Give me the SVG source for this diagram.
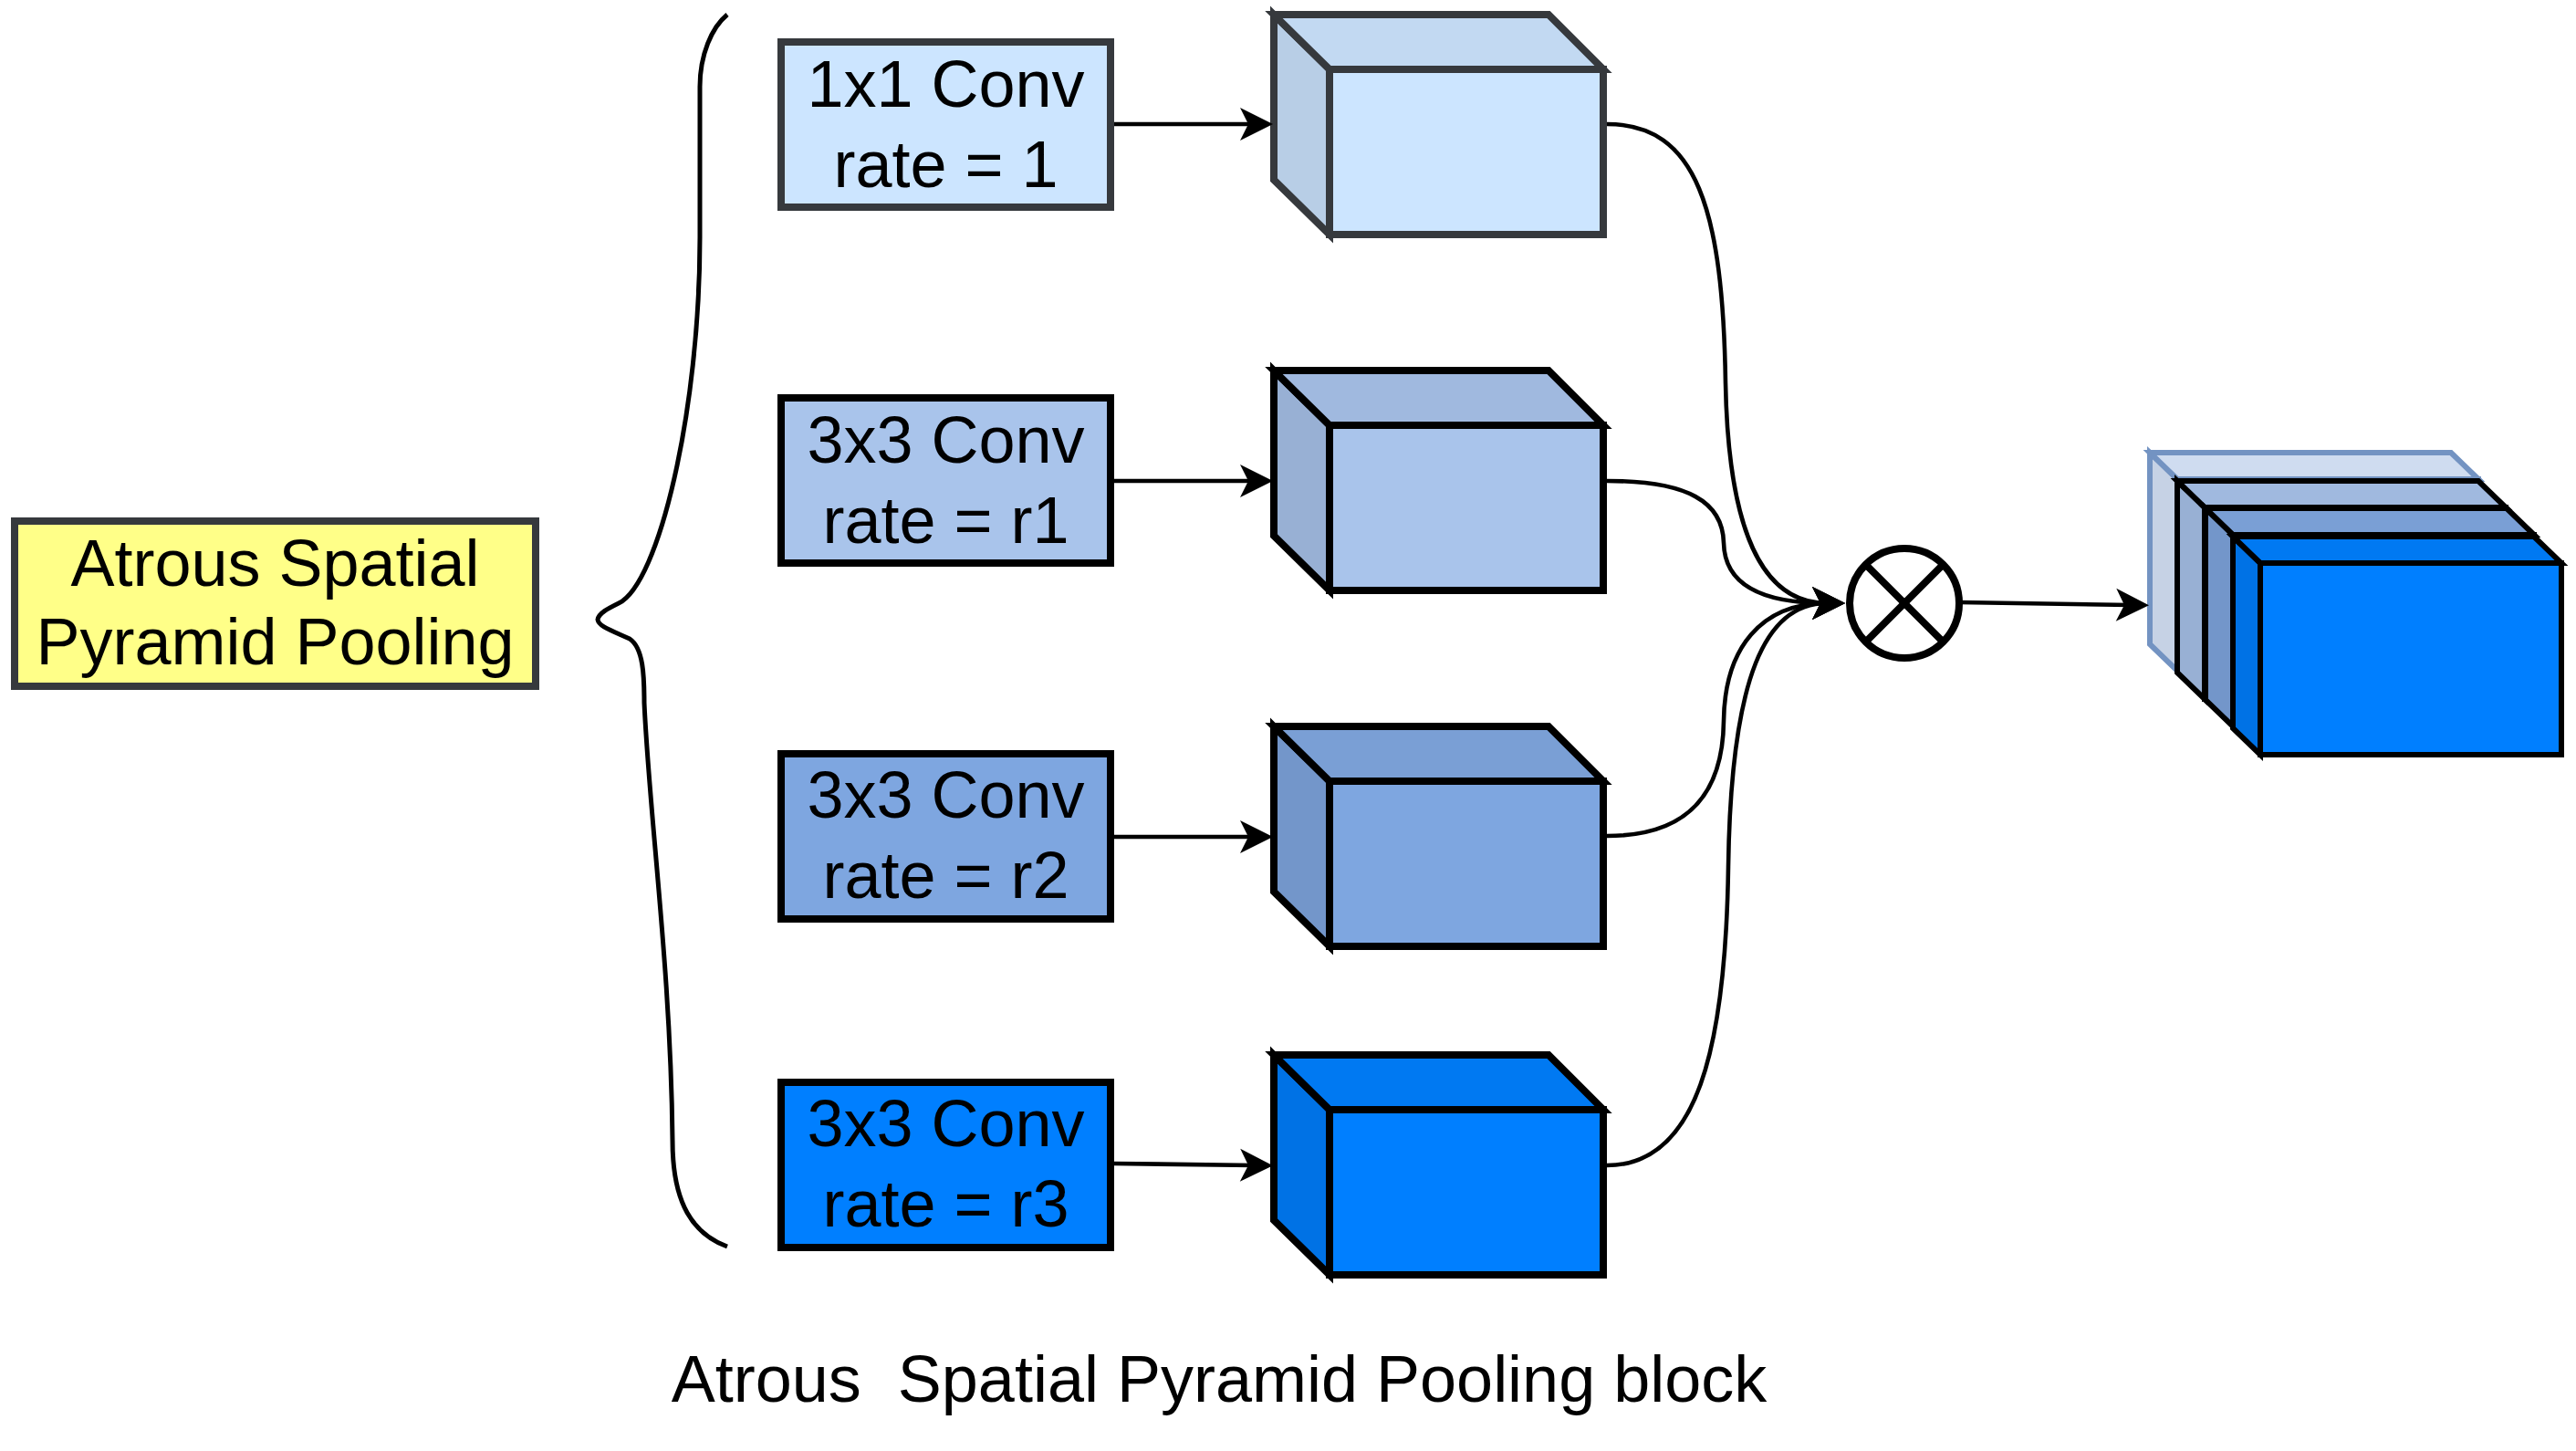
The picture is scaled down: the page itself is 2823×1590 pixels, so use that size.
<svg xmlns="http://www.w3.org/2000/svg" width="2823" height="1590" viewBox="0 0 2823 1590">
  <style>
    .lbl { font-family: "Liberation Sans", Arial, Helvetica, sans-serif; font-size: 72px; fill: #000; text-anchor: middle; white-space: pre; }
    .box { stroke-width: 8; }
    .face { stroke-width: 8; stroke-linejoin: miter; }
    .stk { stroke-width: 6; stroke-linejoin: miter; }
    .edge { fill: none; stroke: #000; stroke-width: 4.6; }
  </style>
  <defs>
    <marker id="arrow" markerUnits="userSpaceOnUse" markerWidth="40" markerHeight="40" viewBox="0 0 40 40" refX="16" refY="20" orient="auto" overflow="visible">
      <path d="M36,20 L0,2 L9,20 L0,38 Z" fill="#000"/>
    </marker>
  </defs>
  <rect width="2823" height="1590" fill="#ffffff"/>

  <!-- Left label -->
  <g id="aspp-label">
    <rect class="box" x="16" y="571" width="571" height="181" fill="#ffff88" stroke="#36393d"/>
    <text class="lbl" x="301.5" y="642">Atrous Spatial</text>
    <text class="lbl" x="301.5" y="728">Pyramid Pooling</text>
  </g>

  <!-- Brace -->
  <g id="brace">
    <path d="M797,16 C780,30 767,60 767,95 L767,260 C767,450 722,640 678,661 C666,667 656,672 655,679 C656,686 668,690 690,700 C705,710 706,740 706,770 C712,900 735,1060 737,1250 C737,1320 760,1352 797,1366" fill="none" stroke="#000" stroke-width="5"/>
  </g>

  <!-- Conv boxes -->
  <g id="conv1">
    <rect class="box" x="856" y="46" width="361" height="181" fill="#cce5ff" stroke="#36393d"/>
    <text class="lbl" x="1036.5" y="117">1x1 Conv</text>
    <text class="lbl" x="1036.5" y="205">rate = 1</text>
  </g>
  <g id="conv2">
    <rect class="box" x="856" y="436" width="361" height="181" fill="#a9c4eb" stroke="#000"/>
    <text class="lbl" x="1036.5" y="507">3x3 Conv</text>
    <text class="lbl" x="1036.5" y="595">rate = r1</text>
  </g>
  <g id="conv3">
    <rect class="box" x="856" y="826" width="361" height="181" fill="#7ea6e0" stroke="#000"/>
    <text class="lbl" x="1036.5" y="896">3x3 Conv</text>
    <text class="lbl" x="1036.5" y="984">rate = r2</text>
  </g>
  <g id="conv4">
    <rect class="box" x="856" y="1186" width="361" height="181" fill="#007fff" stroke="#000"/>
    <text class="lbl" x="1036.5" y="1256">3x3 Conv</text>
    <text class="lbl" x="1036.5" y="1344">rate = r3</text>
  </g>

  <!-- Cubes -->
  <g id="cube1">
    <polygon class="face" points="1396,16 1457,76 1457,257 1396,197" fill="#b8cee6" stroke="#36393d"/>
    <polygon class="face" points="1396,16 1697,16 1757,76 1457,76" fill="#c2d9f2" stroke="#36393d"/>
    <rect class="face" x="1457" y="76" width="300" height="181" fill="#cce5ff" stroke="#36393d"/>
  </g>
  <g id="cube2">
    <polygon class="face" points="1396,406 1457,466 1457,647 1396,587" fill="#98b0d4" stroke="#000"/>
    <polygon class="face" points="1396,406 1697,406 1757,466 1457,466" fill="#a0b9df" stroke="#000"/>
    <rect class="face" x="1457" y="466" width="300" height="181" fill="#a9c4eb" stroke="#000"/>
  </g>
  <g id="cube3">
    <polygon class="face" points="1396,796 1457,856 1457,1037 1396,977" fill="#7396ca" stroke="#000"/>
    <polygon class="face" points="1396,796 1697,796 1757,856 1457,856" fill="#7a9fd5" stroke="#000"/>
    <rect class="face" x="1457" y="856" width="300" height="181" fill="#7ea6e0" stroke="#000"/>
  </g>
  <g id="cube4">
    <polygon class="face" points="1396,1156 1457,1216 1457,1397 1396,1337" fill="#0072e5" stroke="#000"/>
    <polygon class="face" points="1396,1156 1697,1156 1757,1216 1457,1216" fill="#0079f2" stroke="#000"/>
    <rect class="face" x="1457" y="1216" width="300" height="181" fill="#007fff" stroke="#000"/>
  </g>

  <!-- Multiply node -->
  <g id="multiply">
    <circle cx="2087" cy="661" r="60" fill="#fff" stroke="#000" stroke-width="8"/>
    <line x1="2045" y1="619" x2="2129" y2="703" stroke="#000" stroke-width="8"/>
    <line x1="2129" y1="619" x2="2045" y2="703" stroke="#000" stroke-width="8"/>
  </g>

  <!-- Output stacked cubes -->
  <g id="output-stack">
    <g id="layer1">
      <polygon class="stk" points="2356,496 2386,525 2386,735 2356,706" fill="#c6d2e5" stroke="#7393c2"/>
      <polygon class="stk" points="2356,496 2686,496 2716,525 2386,525" fill="#cfdcf0" stroke="#7393c2"/>
      <rect class="stk" x="2386" y="525" width="330" height="210" fill="#dae8fc" stroke="#7393c2"/>
    </g>
    <g id="layer2">
      <polygon class="stk" points="2386,527 2416,556 2416,766 2386,737" fill="#98b0d4" stroke="#000"/>
      <polygon class="stk" points="2386,527 2716,527 2746,556 2416,556" fill="#a0b9df" stroke="#000"/>
      <rect class="stk" x="2416" y="556" width="330" height="210" fill="#a9c4eb" stroke="#000"/>
    </g>
    <g id="layer3">
      <polygon class="stk" points="2417,557 2447,586 2447,796 2417,767" fill="#7396ca" stroke="#000"/>
      <polygon class="stk" points="2417,557 2747,557 2777,586 2447,586" fill="#7a9fd5" stroke="#000"/>
      <rect class="stk" x="2447" y="586" width="330" height="210" fill="#7ea6e0" stroke="#000"/>
    </g>
    <g id="layer4">
      <polygon class="stk" points="2447,588 2477,617 2477,827 2447,798" fill="#0072e5" stroke="#000"/>
      <polygon class="stk" points="2447,588 2777,588 2807,617 2477,617" fill="#0079f2" stroke="#000"/>
      <rect class="stk" x="2477" y="617" width="330" height="210" fill="#007fff" stroke="#000"/>
    </g>
  </g>

  <!-- Connectors -->
  <g id="connectors">
    <path class="edge" d="M1221,136 L1375,136" marker-end="url(#arrow)"/>
    <path class="edge" d="M1221,527 L1375,527" marker-end="url(#arrow)"/>
    <path class="edge" d="M1221,917 L1375,917" marker-end="url(#arrow)"/>
    <path class="edge" d="M1221,1275 L1375,1277" marker-end="url(#arrow)"/>
    <path class="edge" d="M1761,136 C1860,136 1888,230 1891,420 C1894,580 1930,661 2002,661" marker-end="url(#arrow)"/>
    <path class="edge" d="M1761,527 C1850,527 1888,550 1889,595 C1890,640 1930,661 2002,661" marker-end="url(#arrow)"/>
    <path class="edge" d="M1761,916 C1850,916 1888,870 1889,790 C1890,710 1930,661 2002,661" marker-end="url(#arrow)"/>
    <path class="edge" d="M1761,1277 C1860,1277 1891,1150 1894,950 C1897,740 1935,661 2002,661" marker-end="url(#arrow)"/>
    <path class="edge" d="M2147,660 L2335,663" marker-end="url(#arrow)"/>
  </g>

  <!-- Caption -->
  <text class="lbl" x="1336" y="1536">Atrous  Spatial Pyramid Pooling block</text>
</svg>
